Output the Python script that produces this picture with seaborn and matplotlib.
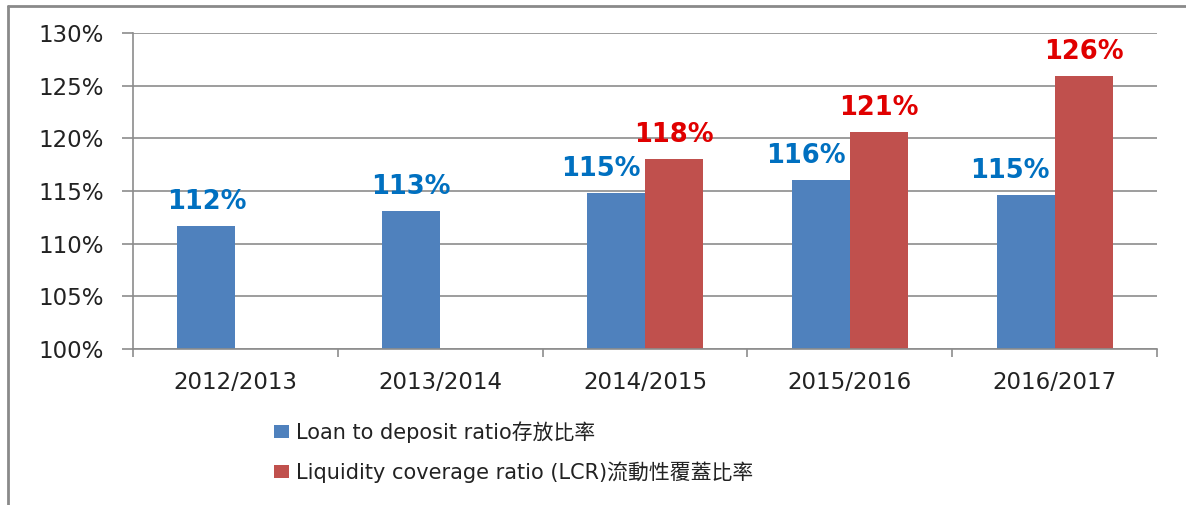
import matplotlib
matplotlib.use('Agg')
import matplotlib.pyplot as plt
import matplotlib.lines as mlines
from matplotlib.ticker import PercentFormatter, FixedLocator
import numpy as np
import pandas as pd
import seaborn as sns

# chart data (percent)
years = ['2012/2013', '2013/2014', '2014/2015', '2015/2016', '2016/2017']
ltd_ratio = [111.7, 113.1, 114.8, 116.0, 114.6]
lcr_ratio = [np.nan, np.nan, 118.0, 120.6, 125.9]
series_names = ['Loan to deposit ratio存放比率', 'Liquidity coverage ratio (LCR)流動性覆蓋比率']

bar_colors = ['#4F81BD', '#C0504D']
label_colors = ['#0070C0', '#E00000']
grey = '#8C8C8C'

# long format table for seaborn
df = pd.DataFrame({
    'year': years * 2,
    'series': [series_names[0]] * len(years) + [series_names[1]] * len(years),
    'value': ltd_ratio + lcr_ratio,
})

sns.set_style('white')
plt.rcParams['font.family'] = ['DejaVu Sans', 'Noto Sans CJK TC']

fig = plt.figure(figsize=(11.86, 5.05), dpi=100)
ax = fig.add_axes([133 / 1186, 1 - 349 / 505, (1157 - 133) / 1186, (349 - 33) / 505])

sns.barplot(data=df, x='year', y='value', hue='series', hue_order=series_names,
            order=years, palette=bar_colors, saturation=1, width=0.566,
            linewidth=0, ax=ax)

handles, labels = ax.get_legend_handles_labels()
ax.get_legend().remove()

ax.set_ylim(100, 130)
ax.set_xlim(-0.5, len(years) - 0.5)
ax.set_yticks(np.arange(100, 131, 5))
ax.yaxis.set_major_formatter(PercentFormatter(xmax=100, decimals=0))
ax.set_xlabel('')
ax.set_ylabel('')

# grid + spines
ax.set_axisbelow(True)
ax.yaxis.grid(True, color=grey, linewidth=1.2)
ax.xaxis.grid(False)
for side in ['top', 'right']:
    ax.spines[side].set_visible(False)
for side in ['left', 'bottom']:
    ax.spines[side].set_color(grey)
    ax.spines[side].set_linewidth(1.2)

# ticks: y outward, x marks between categories
ax.tick_params(axis='y', which='major', direction='out', length=8, width=1.2,
               color=grey, pad=13, labelsize=16.5, labelcolor='#222222', left=True)
ax.tick_params(axis='x', which='major', length=0, pad=16, labelsize=16.5,
               labelcolor='#222222')
ax.xaxis.set_minor_locator(FixedLocator(np.arange(-0.5, len(years), 1.0)))
ax.tick_params(axis='x', which='minor', direction='out', length=6, width=1.2,
               color=grey, bottom=True)

# value labels above the bars
for i, values in enumerate([ltd_ratio, lcr_ratio]):
    for j, v in enumerate(values):
        if np.isnan(v):
            continue
        x = j + (i - 0.5) * 0.283
        dx = 0
        # blue label nudged left when a red bar sits next to it
        if i == 0 and not np.isnan(lcr_ratio[j]):
            dx = -11
        ax.annotate(f'{v:.0f}%', xy=(x, v), xytext=(dx, 8), textcoords='offset points',
                    ha='center', va='bottom', fontsize=18.5, fontweight='bold',
                    color=label_colors[i])

# legend under the chart
fig.legend(handles, labels, loc='upper left', bbox_to_anchor=(274 / 1186, 1 - 421 / 505),
           frameon=False, fontsize=15, handlelength=0.7, handleheight=0.6,
           handletextpad=0.35, labelspacing=0.9, borderpad=0, borderaxespad=0,
           labelcolor='#222222')

# outer frame (left and top edges visible in the picture)
fig.add_artist(mlines.Line2D([8 / 1186, 8 / 1186], [0, 1 - 6 / 505],
                             transform=fig.transFigure, color='#8A8A8A', linewidth=2))
fig.add_artist(mlines.Line2D([8 / 1186, 1], [1 - 6 / 505, 1 - 6 / 505],
                             transform=fig.transFigure, color='#8A8A8A', linewidth=2))

plt.savefig('out.png', dpi=100)
plt.close()
